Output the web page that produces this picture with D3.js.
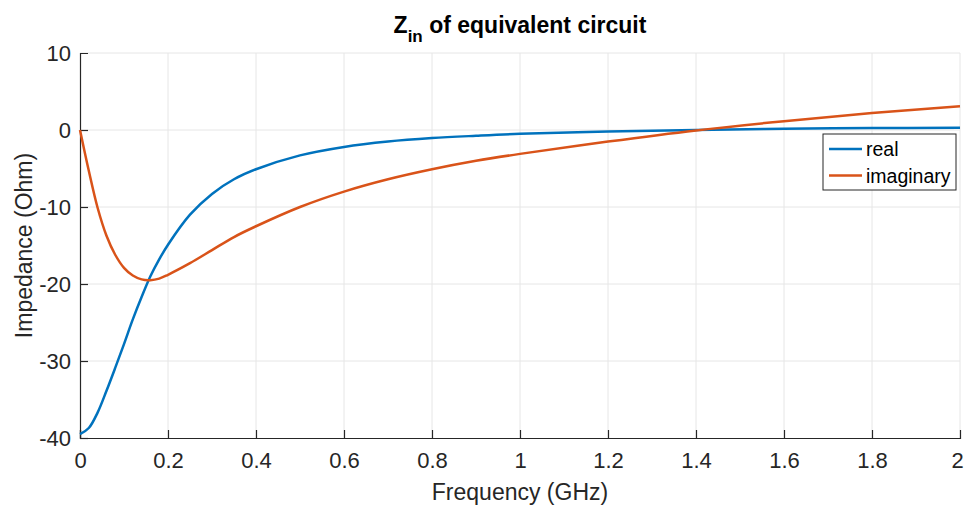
<!DOCTYPE html>
<html>
<head>
<meta charset="utf-8">
<script src="https://cdn.jsdelivr.net/npm/d3@7"></script>
<style>
  body { margin: 0; background: #fff; }
  svg { font-family: "Liberation Sans", Arial, Helvetica, sans-serif; }
</style>
</head>
<body>
<svg id="chart" width="964" height="507"></svg>
<script>
// frequency samples (GHz)
const freq = [0, 0.02, 0.04, 0.06, 0.08, 0.1, 0.12, 0.14, 0.16, 0.18, 0.2,
  0.25, 0.3, 0.35, 0.4, 0.5, 0.6, 0.7, 0.8, 0.9, 1.0, 1.2, 1.4, 1.6, 1.8, 2.0];
const realPart = [-39.5, -38.7, -36.7, -33.9, -30.9, -27.8, -24.6, -21.7, -19.0, -16.8, -14.9,
  -11.0, -8.3, -6.4, -5.1, -3.3, -2.2, -1.5, -1.05, -0.75, -0.5, -0.2, 0.0, 0.15, 0.25, 0.3];
const imagPart = [0, -5.3, -10.1, -13.7, -16.2, -17.9, -18.9, -19.4, -19.5, -19.3, -18.8,
  -17.3, -15.6, -13.9, -12.5, -10.0, -8.0, -6.4, -5.1, -4.0, -3.1, -1.5, -0.05, 1.15, 2.2, 3.1];
const xTicks = [0, 0.2, 0.4, 0.6, 0.8, 1, 1.2, 1.4, 1.6, 1.8, 2];
const yTicks = [-40, -30, -20, -10, 0, 10];
const seriesNames = ["real", "imaginary"];
const seriesColors = ["#0072BD", "#D95319"];

const svg = d3.select("#chart");
const margin = { left: 80, right: 4, top: 53, bottom: 69 };
const W = 964, H = 507;

const x = d3.scaleLinear().domain([0, 2]).range([margin.left, W - margin.right]);
const y = d3.scaleLinear().domain([-40, 10]).range([H - margin.bottom, margin.top]);

// grid
const grid = svg.append("g").attr("stroke", "#e6e6e6").attr("stroke-width", 1);
grid.selectAll("line.vx").data(xTicks.slice(1)).join("line")
  .attr("x1", d => x(d)).attr("x2", d => x(d))
  .attr("y1", y(-40)).attr("y2", y(10));
grid.selectAll("line.hy").data(yTicks.slice(1)).join("line")
  .attr("x1", x(0)).attr("x2", x(2))
  .attr("y1", d => y(d)).attr("y2", d => y(d));

// axes, ticks pointing inward
const xAxis = svg.append("g")
  .attr("transform", `translate(0,${y(-40)})`)
  .call(d3.axisBottom(x).tickValues(xTicks).tickSize(-8).tickPadding(14).tickFormat(d3.format("")));
const yAxis = svg.append("g")
  .attr("transform", `translate(${x(0)},0)`)
  .call(d3.axisLeft(y).tickValues(yTicks).tickSize(-8).tickPadding(9).tickFormat(d => String(d)));

[xAxis, yAxis].forEach(a => {
  a.select(".domain").attr("stroke", "#262626").attr("stroke-width", 1.2);
  a.selectAll(".tick line").attr("stroke", "#262626").attr("stroke-width", 1.2);
  a.selectAll(".tick text").attr("fill", "#262626").style("font-size", "22px");
});
// no tick marks on the far edges
xAxis.selectAll(".tick").filter(d => d === 2).select("line").remove();
xAxis.selectAll(".tick").filter(d => d === 2).select("text").attr("dx", -3);
yAxis.selectAll(".tick").filter(d => d === 10).select("line").remove();

// lines
const rows = freq.map((f, i) => ({ f, re: realPart[i], im: imagPart[i] }));
const mk = key => d3.line().x(d => x(d.f)).y(d => y(d[key])).curve(d3.curveCatmullRom.alpha(0.5));
svg.append("path").datum(rows).attr("d", mk("re"))
  .attr("fill", "none").attr("stroke", seriesColors[0]).attr("stroke-width", 2.5);
svg.append("path").datum(rows).attr("d", mk("im"))
  .attr("fill", "none").attr("stroke", seriesColors[1]).attr("stroke-width", 2.5);

// title
const title = svg.append("text").attr("x", 520).attr("y", 33)
  .attr("text-anchor", "middle").attr("font-weight", "bold")
  .attr("font-size", 23).attr("fill", "#000");
title.append("tspan").text("Z");
title.append("tspan").attr("font-size", 17).attr("dy", 9).text("in");
title.append("tspan").attr("dy", -9).text(" of equivalent circuit");

// axis labels
svg.append("text").attr("x", 520).attr("y", 500)
  .attr("text-anchor", "middle").attr("font-size", 23).attr("fill", "#262626")
  .text("Frequency (GHz)");
svg.append("text").attr("transform", `translate(32,${(y(-40) + y(10)) / 2}) rotate(-90)`)
  .attr("text-anchor", "middle").attr("font-size", 23).attr("fill", "#262626")
  .text("Impedance (Ohm)");

// legend
const lg = svg.append("g").attr("transform", "translate(823,134)");
lg.append("rect").attr("width", 133).attr("height", 56)
  .attr("fill", "#fff").attr("stroke", "#262626").attr("stroke-width", 1);
seriesNames.forEach((name, i) => {
  const yy = 15 + i * 26.5;
  lg.append("line").attr("x1", 6).attr("x2", 39).attr("y1", yy).attr("y2", yy)
    .attr("stroke", seriesColors[i]).attr("stroke-width", 2.5);
  lg.append("text").attr("x", 43).attr("y", yy + 7)
    .attr("font-size", 19.5).attr("fill", "#000").text(name);
});
</script>
</body>
</html>
